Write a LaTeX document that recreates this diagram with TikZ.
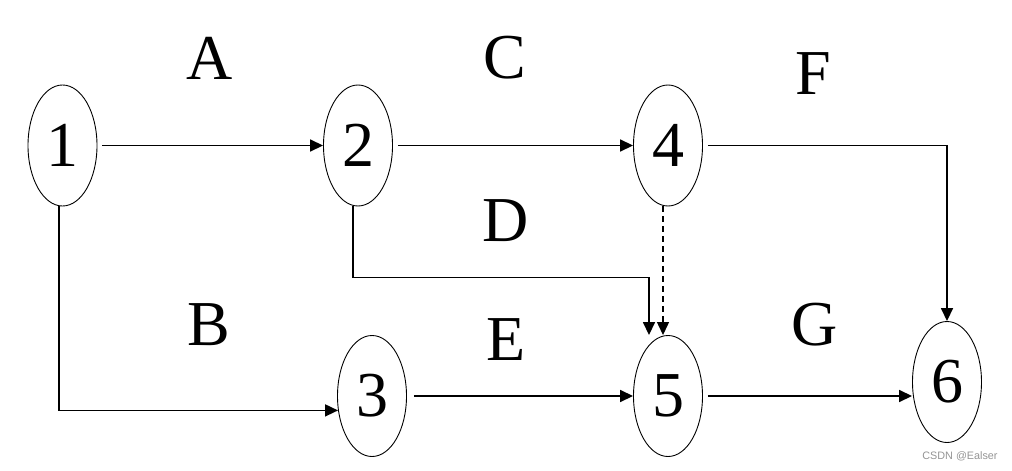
\documentclass[tikz,border=0pt]{standalone}
\usepackage{fontspec}
\setmainfont{Liberation Serif}
\newfontfamily\wmfont{Liberation Sans}
\usetikzlibrary{shapes.geometric,arrows.meta,calc}
\begin{document}
\begin{tikzpicture}[x=1pt,y=-1pt,
  ev/.style={ellipse,draw=black,line width=0.9pt,minimum width=69pt,minimum height=121pt,inner sep=0pt,font=\fontsize{64}{64}\selectfont},
  lbl/.style={inner sep=0pt,font=\fontsize{64}{64}\selectfont},
  arr/.style={line width=1.6pt,-{Triangle[length=13pt,width=12pt]}},
  dsh/.style={line width=1.2pt,dash pattern=on 6pt off 4pt,-{Triangle[length=13pt,width=12pt]}}]
\useasboundingbox (0,0) rectangle (1012,471);
% events
\node[ev] (n1) at (62.5,145.5) {1};
\node[ev] (n2) at (358,145.5) {2};
\node[ev] (n4) at (668,145.5) {4};
\node[ev] (n3) at (372,396) {3};
\node[ev] (n5) at (668,396) {5};
\node[ev] (n6) at (947,382) {6};
% activity labels
\node[lbl] (la) at (210,58.5) {A};
\node[lbl] (lc) at (505,58) {C};
\node[lbl] (lf) at (813,74) {F};
\node[lbl] (ld) at (506,221) {D};
\node[lbl] (lb) at (209,325) {B};
\node[lbl] (le) at (506,340) {E};
\node[lbl] (lg) at (815,325) {G};
% helper coordinates
\coordinate (s1) at ([xshift=-3.5pt]n1.south);
\coordinate (s2) at ([xshift=-5pt]n2.south);
\coordinate (s4) at ([xshift=-5pt]n4.south);
\coordinate (d5) at ([xshift=-19pt]n5.north);
\coordinate (v5) at ([xshift=-5pt]n5.north);
\coordinate (dm) at ($(s2)+(0,71)$);
% connectors
\draw[arr,shorten <=5pt] (n1.east) -- (n2.west);
\draw[arr,shorten <=5pt] (n2.east) -- (n4.west);
\draw[arr,shorten <=5pt] (n4.east) -| (n6.north);
\draw[arr] (s1) |- (n3.203);
\draw[arr] (s2) -- (dm) -| (d5);
\draw[dsh] (s4) -- (v5);
\draw[arr,shorten <=7pt] (n3.east) -- (n5.west);
\draw[arr,shorten <=5pt] (n5.east) -- (n5.east -| n6.west);
% watermark
\node[inner sep=0pt,text=black!42,font=\wmfont\fontsize{10.8}{11}\selectfont] (wm) at (960,456) {CSDN @Ealser};
\end{tikzpicture}
\end{document}
